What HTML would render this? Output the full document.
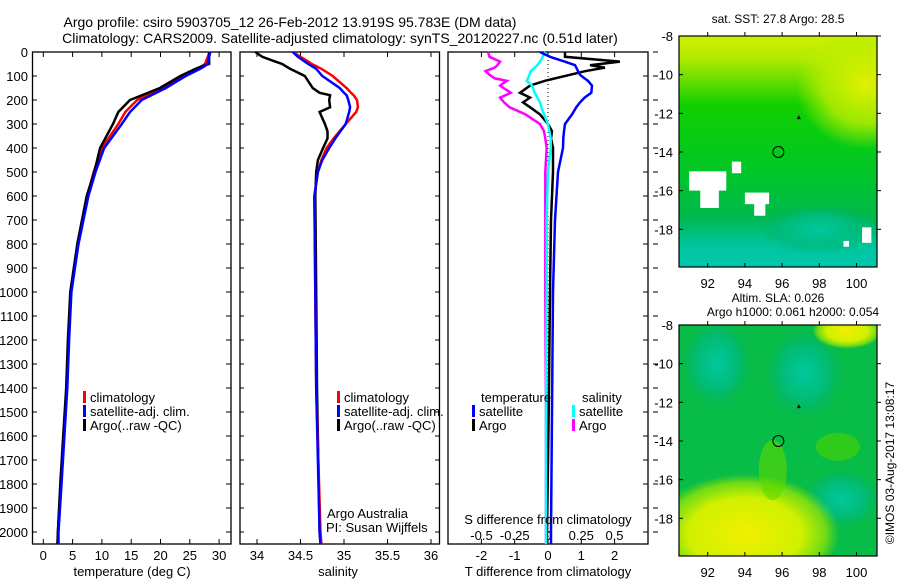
<!DOCTYPE html>
<html><head><meta charset="utf-8"><style>
body{margin:0;background:#fff;}
svg{display:block;font-family:"Liberation Sans",sans-serif;}
text{fill:#000;}
</style></head><body>
<svg id="fig" width="900" height="580" viewBox="0 0 900 580">
<text x="290" y="27" font-size="14" text-anchor="middle">Argo profile: csiro 5903705_12 26-Feb-2012 13.919S 95.783E (DM data)</text>
<text x="340" y="43" font-size="14" text-anchor="middle">Climatology: CARS2009. Satellite-adjusted climatology: synTS_20120227.nc (0.51d later)</text>
<g id="plots"></g>
</svg>
<script>
// ---- data ----
const depthT = [0,50,60,70,100,150,200,250,300,400,500,600,800,1000,1200,1400,1600,1800,2000,2050];
const argoT =  [28.3,28.3,27.0,26.0,23.4,19.9,14.8,12.8,11.9,9.7,8.7,7.4,5.8,4.6,4.2,3.9,3.4,2.9,2.5,2.4];
const climT =  [28.4,27.6,27.0,26.3,23.9,20.4,16.0,14.0,12.8,10.0,8.6,7.5,5.9,4.7,4.3,4.0,3.5,3.0,2.5,2.5];
const satT =   [28.5,28.0,27.5,26.8,24.3,20.9,16.8,14.8,13.4,10.4,8.9,7.7,6.0,4.8,4.4,4.1,3.6,3.1,2.6,2.6];
const depthS = [0,20,40,50,70,100,150,170,180,200,230,250,300,330,360,400,450,500,600,1000,1400,2000,2050];
const argoS =  [33.98,34.06,34.21,34.29,34.38,34.55,34.64,34.72,34.84,34.83,34.84,34.72,34.78,34.81,34.81,34.76,34.70,34.68,34.67,34.68,34.69,34.72,34.73];
const climS =  [34.41,34.50,34.59,34.63,34.74,34.87,35.03,35.08,35.11,35.15,35.16,35.14,35.02,34.95,34.88,34.80,34.74,34.70,34.66,34.67,34.68,34.73,34.74];
const satS =   [34.41,34.47,34.55,34.59,34.68,34.75,34.95,35.00,35.03,35.05,35.07,35.06,35.02,34.96,34.90,34.83,34.75,34.70,34.66,34.67,34.68,34.72,34.73];
const depthD = [0,20,40,55,65,80,95,110,120,140,170,190,210,230,260,300,330,360,400,500,700,1000,1500,2000,2050];
const argoTd = [0.51,0.51,2.16,1.26,1.71,1.11,0.66,0.21,-0.09,-0.54,-0.84,-0.54,-0.75,-0.54,-0.24,0,0.12,0.09,0.15,0.15,0.09,0.06,0.02,-0.03,-0.03];
const satTd =  [-0.24,0.06,0.5,0.81,0.85,0.9,0.96,1.1,1.2,1.32,1.3,1.1,0.96,0.85,0.72,0.51,0.48,0.46,0.45,0.3,0.21,0.15,0.12,0.09,0.09];
const argoSd = [-0.45,-0.44,-0.36,-0.38,-0.4,-0.47,-0.44,-0.4,-0.31,-0.36,-0.28,-0.36,-0.33,-0.29,-0.17,-0.06,-0.03,-0.02,-0.01,-0.02,-0.02,-0.02,-0.015,-0.015,-0.015];
const satSd =  [-0.02,-0.04,-0.06,-0.08,-0.1,-0.13,-0.14,-0.15,-0.16,-0.12,-0.1,-0.08,-0.06,-0.05,-0.03,0,0.01,0.02,0.02,0,-0.01,-0.01,-0.015,-0.015,-0.015];
const depthTicks = [0,100,200,300,400,500,600,700,800,900,1000,1100,1200,1300,1400,1500,1600,1700,1800,1900,2000];
const tTicks = [0,5,10,15,20,25,30];
const sTicks = [34,34.5,35,35.5,36];
const tdTicks = [-2,-1,0,1,2];
const sdTicks = [-0.5,-0.25,0,0.25,0.5];
const latTicks = [-8,-10,-12,-14,-16,-18];
const lonTicks = [92,94,96,98,100];

const NS="http://www.w3.org/2000/svg";
const root=document.getElementById('plots');
function el(tag,attrs,parent,txt){const e=document.createElementNS(NS,tag);for(const k in attrs)e.setAttribute(k,attrs[k]);if(txt!==undefined)e.textContent=txt;(parent||root).appendChild(e);return e;}
const y=d=>52+0.24*d;
const xT=t=>43.3+5.86*t;
const xS=s=>257+87*(s-34);
const xTd=t=>548+33.3*t;
const xSd=s=>548+133*s;

function frame(x0,x1,name){const r=el('rect',{x:x0,y:52,width:x1-x0,height:492,fill:'none',stroke:'#000','stroke-width':1.3});

}
function line(xs,ds,fx,col,w,name){const p=xs.map((v,i)=>fx(v).toFixed(1)+','+y(ds[i]).toFixed(1)).join(' ');
const e=el('polyline',{points:p,fill:'none',stroke:col,'stroke-width':w});

}
function xticks(ticks,fx,yl,name){ticks.forEach(t=>{const x=fx(t);
el('line',{x1:x,x2:x,y1:544,y2:539,stroke:'#000'});el('line',{x1:x,x2:x,y1:52,y2:57,stroke:'#000'});
const tx=el('text',{x:x,y:yl,'font-size':13,'text-anchor':'middle'},root,String(t));

});}
function legend(x,yy,col,label,name){el('rect',{x:x,y:yy-11,width:3,height:12,fill:col});
const t=el('text',{x:x+7,y:yy,'font-size':13},root,label);

}

// Panel 1
frame(32.5,231,'temperature-panel');
depthTicks.forEach(d=>{el('line',{x1:32.5,x2:37,y1:y(d),y2:y(d),stroke:'#000'});el('line',{x1:231,x2:226,y1:y(d),y2:y(d),stroke:'#000'});
const t=el('text',{x:28,y:y(d)+5,'font-size':13,'text-anchor':'end'},root,String(d));

});
xticks(tTicks,xT,560,'temperature-tick-label');
line(climT,depthT,xT,'#f00',2.5,'temperature-climatology-line');
line(argoT,depthT,xT,'#000',2.5,'temperature-argo-line');
line(satT,depthT,xT,'#00f',2.5,'temperature-satellite-line');
el('text',{x:132,y:576,'font-size':13,'text-anchor':'middle',},root,'temperature (deg C)');
legend(83,402,'#f00','climatology','legend-climatology');
legend(83,416,'#00f','satellite-adj. clim.','legend-satellite');
legend(83,430,'#000','Argo(..raw -QC)','legend-argo');

// Panel 2
frame(240,439.5,'salinity-panel');
depthTicks.forEach(d=>{el('line',{x1:240,x2:244,y1:y(d),y2:y(d),stroke:'#000'});el('line',{x1:439.5,x2:435,y1:y(d),y2:y(d),stroke:'#000'});});
xticks(sTicks,xS,560,'salinity-tick-label');
line(argoS,depthS,xS,'#000',2.5,'salinity-argo-line');
line(climS,depthS,xS,'#f00',2.5,'salinity-climatology-line');
line(satS,depthS,xS,'#00f',2.5,'salinity-satellite-line');
el('text',{x:338,y:576,'font-size':13,'text-anchor':'middle',},root,'salinity');
legend(337,402,'#f00','climatology','legend-climatology-2');
legend(337,416,'#00f','satellite-adj. clim.','legend-satellite-2');
legend(337,430,'#000','Argo(..raw -QC)','legend-argo-2');
el('text',{x:327,y:518,'font-size':13,},root,'Argo Australia');
el('text',{x:326,y:532,'font-size':13,},root,'PI: Susan Wijffels');

// Panel 3
frame(448,648,'difference-panel');
depthTicks.forEach(d=>{el('line',{x1:648,x2:643,y1:y(d),y2:y(d),stroke:'#000'});el('line',{x1:653,x2:658,y1:y(d),y2:y(d),stroke:'#000'});});
el('line',{x1:548,x2:548,y1:52,y2:544,stroke:'#000','stroke-dasharray':'1,3'});
xticks(tdTicks,xTd,560,'t-diff-tick-label');
sdTicks.forEach(s=>{const t=el('text',{x:xSd(s),y:540,'font-size':13,'text-anchor':'middle'},root,String(s));

});
line(argoSd,depthD,xSd,'#f0f',2.5,'s-diff-argo-line');
line(argoTd,depthD,xTd,'#000',2.5,'t-diff-argo-line');
line(satSd,depthD,xSd,'#0ff',2.5,'s-diff-satellite-line');
line(satTd,depthD,xTd,'#00f',2.5,'t-diff-satellite-line');
el('text',{x:548,y:524,'font-size':13,'text-anchor':'middle',},root,'S difference from climatology');
el('text',{x:548,y:576,'font-size':13,'text-anchor':'middle',},root,'T difference from climatology');
el('text',{x:481,y:402,'font-size':13,},root,'temperature');
el('text',{x:582,y:402,'font-size':13,},root,'salinity');
legend(472,416,'#00f','satellite','legend-t-satellite');
legend(472,430,'#000','Argo','legend-t-argo');
legend(572,416,'#0ff','satellite','legend-s-satellite');
legend(572,430,'#f0f','Argo','legend-s-argo');

// Maps
function map(top,name,draw){
const g=el('g',{});
const mx=lo=>707.7+18.6*(lo-92), my=la=>top+19.33*(-8-la);
const cp='cp'+top;const c=el('clipPath',{id:cp},g);el('rect',{x:679,y:top,width:198,height:231},c);
const inner=el('g',{'clip-path':'url(#'+cp+')'},g);draw(inner,mx,my);
el('rect',{x:679,y:top,width:198,height:231,fill:'none',stroke:'#000','stroke-width':1.2},g);
latTicks.forEach(la=>{el('line',{x1:679,x2:683,y1:my(la),y2:my(la),stroke:'#000'},g);el('line',{x1:877,x2:881,y1:my(la),y2:my(la),stroke:'#000'},g);
const t=el('text',{x:673,y:my(la)+5,'font-size':13,'text-anchor':'end'},g,String(la));

});
lonTicks.forEach(lo=>{el('line',{x1:mx(lo),x2:mx(lo),y1:top,y2:top-4,stroke:'#000'},g);el('line',{x1:mx(lo),x2:mx(lo),y1:top+231,y2:top+227,stroke:'#000'},g);
const t=el('text',{x:mx(lo),y:top+252,'font-size':13,'text-anchor':'middle'},g,String(lo));

});
el('circle',{cx:mx(95.8),cy:my(-14),r:5.5,fill:'none',stroke:'#000'},g);
el('polygon',{points:`${mx(96.9)-2},${my(-12.2)+2} ${mx(96.9)+2},${my(-12.2)+2} ${mx(96.9)},${my(-12.2)-2}`,fill:'#000'},g);
return g;}
const defs=el('defs',{});
const lg=el('linearGradient',{id:'sst',x1:0,y1:0,x2:0,y2:1},defs);
[[0,'#d0f000'],[0.1,'#b0ea00'],[0.2,'#60dc00'],[0.3,'#10d000'],[0.6,'#00c628'],[0.78,'#00b84c'],[0.9,'#00c49a'],[1,'#00c8b0']].forEach(s=>el('stop',{offset:s[0],'stop-color':s[1]},lg));
const rg=el('radialGradient',{id:'yel'},defs);el('stop',{offset:0,'stop-color':'#e0f000'},rg);el('stop',{offset:0.6,'stop-color':'#c0ee00','stop-opacity':0.8},rg);el('stop',{offset:1,'stop-color':'#c0ee00','stop-opacity':0},rg);
const rt=el('radialGradient',{id:'teal'},defs);el('stop',{offset:0,'stop-color':'#00c8a0'},rt);el('stop',{offset:0.6,'stop-color':'#00bc80','stop-opacity':0.8},rt);el('stop',{offset:1,'stop-color':'#00b060','stop-opacity':0},rt);
const ry=el('radialGradient',{id:'yel2'},defs);el('stop',{offset:0,'stop-color':'#f0f000'},ry);el('stop',{offset:0.6,'stop-color':'#d0f000'},ry);el('stop',{offset:0.85,'stop-color':'#a0e800','stop-opacity':0.7},ry);el('stop',{offset:1,'stop-color':'#80e000','stop-opacity':0},ry);

map(36,'sst-map',(g,mx,my)=>{
el('rect',{x:679,y:36,width:198,height:231,fill:'url(#sst)'},g);
el('ellipse',{cx:mx(100.5),cy:my(-10.5),rx:70,ry:65,fill:'url(#yel)'},g);
el('ellipse',{cx:mx(98),cy:my(-18),rx:60,ry:25,fill:'url(#teal)'},g);
[[91,-15,2,1],[91.6,-15.5,1,1.4],[93.3,-14.5,0.5,0.6],[94,-16.1,1.3,0.6],[94.5,-16.5,0.6,0.8],[100.3,-17.9,0.5,0.8],[99.3,-18.6,0.3,0.3]].forEach(b=>el('rect',{x:mx(b[0]),y:my(b[1]),width:b[2]*18.6,height:b[3]*19.3,fill:'#fff'},g));
});
el('text',{x:778,y:23,'font-size':12,'text-anchor':'middle',},root,'sat. SST: 27.8 Argo: 28.5');

map(325,'sla-map',(g,mx,my)=>{
el('rect',{x:679,y:325,width:198,height:231,fill:'#08bc48'},g);
el('ellipse',{cx:mx(92.5),cy:my(-10),rx:35,ry:45,fill:'url(#teal)'},g);
el('ellipse',{cx:mx(97.2),cy:my(-10.5),rx:40,ry:45,fill:'url(#teal)'},g);
el('ellipse',{cx:mx(99.2),cy:my(-17),rx:40,ry:30,fill:'url(#teal)'},g);
el('ellipse',{cx:mx(94),cy:my(-18.8),rx:95,ry:60,fill:'url(#yel2)'},g);
el('ellipse',{cx:mx(99.5),cy:my(-8.3),rx:35,ry:18,fill:'url(#yel2)'},g);
el('ellipse',{cx:mx(95.5),cy:my(-15.5),rx:14,ry:30,fill:'#5cd800','fill-opacity':0.6},g);
el('ellipse',{cx:mx(99),cy:my(-14.3),rx:22,ry:14,fill:'#4ad400','fill-opacity':0.6},g);
});
el('text',{x:778,y:302,'font-size':12,'text-anchor':'middle',},root,'Altim. SLA: 0.026');
el('text',{x:793,y:316,'font-size':12,'text-anchor':'middle',},root,'Argo h1000: 0.061 h2000: 0.054');
el('text',{x:0,y:0,'font-size':12,'text-anchor':'middle',transform:'translate(894,463) rotate(-90)',},root,'©IMOS 03-Aug-2017 13:08:17');
</script>
</body></html>
